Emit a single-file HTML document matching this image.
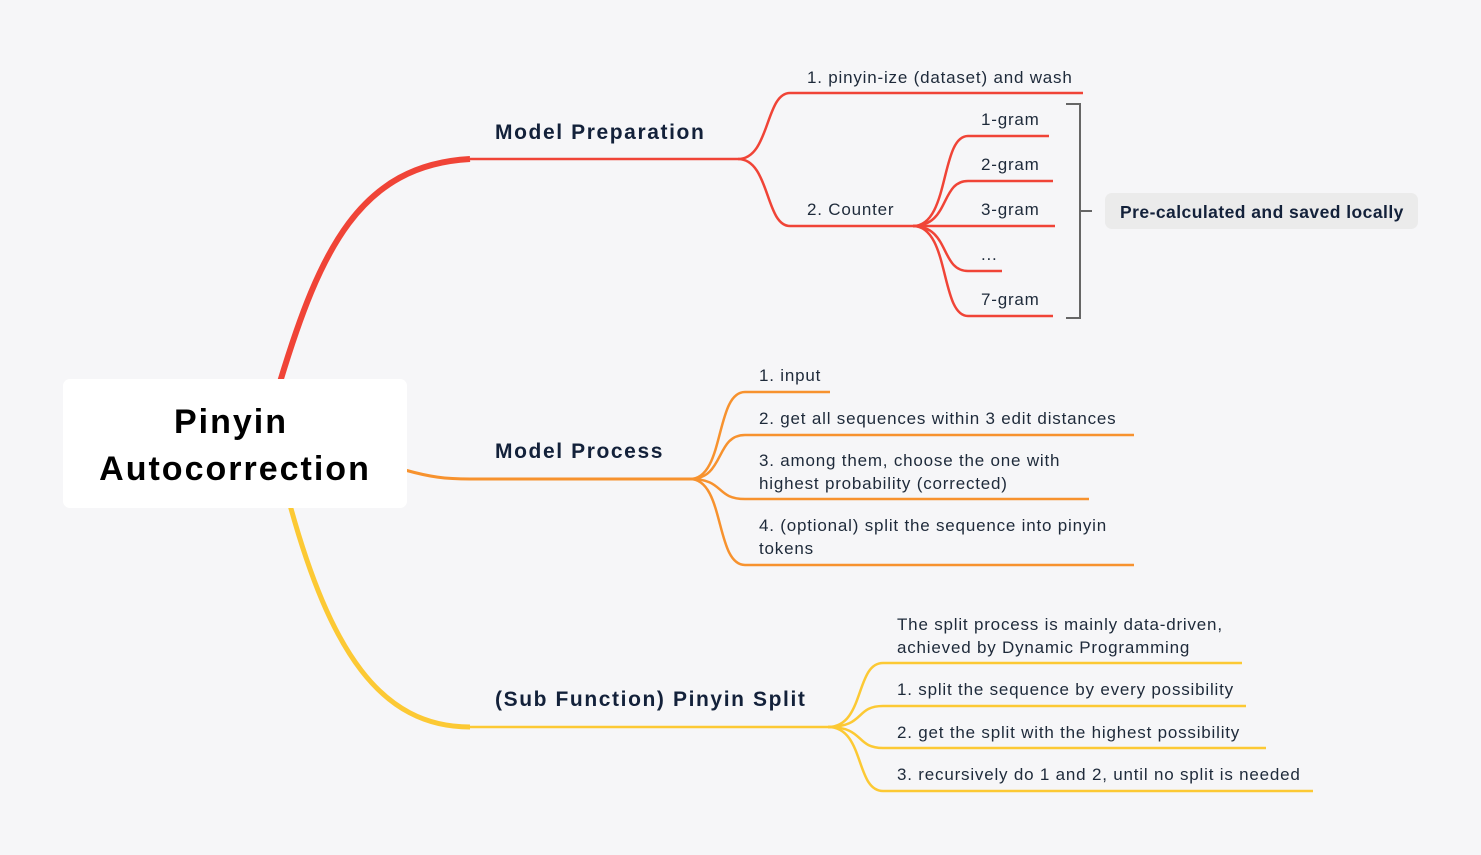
<!DOCTYPE html>
<html><head><meta charset="utf-8"><style>
html,body{margin:0;padding:0;background:#F6F6F8;}
svg{display:block;font-family:"Liberation Sans",sans-serif;}
.t{font-size:17px;fill:#1E2A3A;letter-spacing:0.8px;}
.h{font-size:21px;font-weight:bold;fill:#13213A;letter-spacing:1.6px;}
</style></head><body>
<svg width="1481" height="855" viewBox="0 0 1481 855" xmlns="http://www.w3.org/2000/svg">
<rect width="1481" height="855" fill="#F6F6F8"/>
<path d="M280,382 C320,250 360,165 470,159" fill="none" stroke="#F04437" stroke-width="6"/>
<path d="M470,159 L738,159" stroke="#F04437" stroke-width="2.5"/>
<path d="M405,470 C430,477 445,479 470,479 L690,479" fill="none" stroke="#F7922E" stroke-width="3"/>
<path d="M290,505 C330,650 380,727 470,727" fill="none" stroke="#FCC934" stroke-width="5"/>
<path d="M470,727 L828,727" stroke="#FCC934" stroke-width="2.5"/>
<rect x="63" y="379" width="344" height="129" rx="7" fill="#fff"/>
<text x="231" y="433" text-anchor="middle" font-size="34" font-weight="bold" fill="#000" letter-spacing="2">Pinyin</text>
<text x="235" y="480" text-anchor="middle" font-size="34" font-weight="bold" fill="#000" letter-spacing="2">Autocorrection</text>
<text class="h" x="495" y="139">Model Preparation</text>
<text class="h" x="495" y="458">Model Process</text>
<text class="h" x="495" y="706">(Sub Function) Pinyin Split</text>
<g fill="none" stroke="#F04437" stroke-width="2.5">
<path d="M738,159 C770,159 765,93 790,93 L1083,93"/>
<path d="M738,159 C770,159 765,226 790,226 L913,226"/>
<path d="M913,226 C950,226 940,136 968,136 L1049,136"/>
<path d="M913,226 C950,226 940,181 968,181 L1053,181"/>
<path d="M913,226 L1055,226"/>
<path d="M913,226 C950,226 940,271 968,271 L1002,271"/>
<path d="M913,226 C950,226 940,316 968,316 L1053,316"/>
</g>
<text class="t" x="807" y="83">1. pinyin-ize (dataset) and wash</text>
<text class="t" x="807" y="215">2. Counter</text>
<text class="t" x="981" y="125">1-gram</text>
<text class="t" x="981" y="170">2-gram</text>
<text class="t" x="981" y="215">3-gram</text>
<text class="t" x="981" y="260" font-size="12">...</text>
<text class="t" x="981" y="305">7-gram</text>
<path d="M1066,104 L1080,104 L1080,318 L1066,318 M1080,211 L1092,211" fill="none" stroke="#666" stroke-width="2"/>
<rect x="1105" y="193" width="313" height="36" rx="7" fill="#EBEBEB"/>
<text x="1120" y="218" font-size="17.5" font-weight="bold" fill="#13213A" letter-spacing="0.45">Pre-calculated and saved locally</text>
<g fill="none" stroke="#F7922E" stroke-width="2.5">
<path d="M690,479 C725,479 715,392 745,392 L830,392"/>
<path d="M690,479 C725,479 715,435 745,435 L1134,435"/>
<path d="M690,479 C725,479 715,499 745,499 L1089,499"/>
<path d="M690,479 C725,479 715,565 745,565 L1134,565"/>
</g>
<text class="t" x="759" y="381">1. input</text>
<text class="t" x="759" y="424">2. get all sequences within 3 edit distances</text>
<text class="t" x="759" y="466">3. among them, choose the one with</text>
<text class="t" x="759" y="489">highest probability (corrected)</text>
<text class="t" x="759" y="531">4. (optional) split the sequence into pinyin</text>
<text class="t" x="759" y="554">tokens</text>
<g fill="none" stroke="#FCC934" stroke-width="2.5">
<path d="M828,727 C865,727 855,663 883,663 L1242,663"/>
<path d="M828,727 C865,727 855,706 883,706 L1246,706"/>
<path d="M828,727 C865,727 855,748 883,748 L1266,748"/>
<path d="M828,727 C865,727 855,791 883,791 L1313,791"/>
</g>
<text class="t" x="897" y="630">The split process is mainly data-driven,</text>
<text class="t" x="897" y="653">achieved by Dynamic Programming</text>
<text class="t" x="897" y="695">1. split the sequence by every possibility</text>
<text class="t" x="897" y="738">2. get the split with the highest possibility</text>
<text class="t" x="897" y="780">3. recursively do 1 and 2, until no split is needed</text>
</svg>
</body></html>
